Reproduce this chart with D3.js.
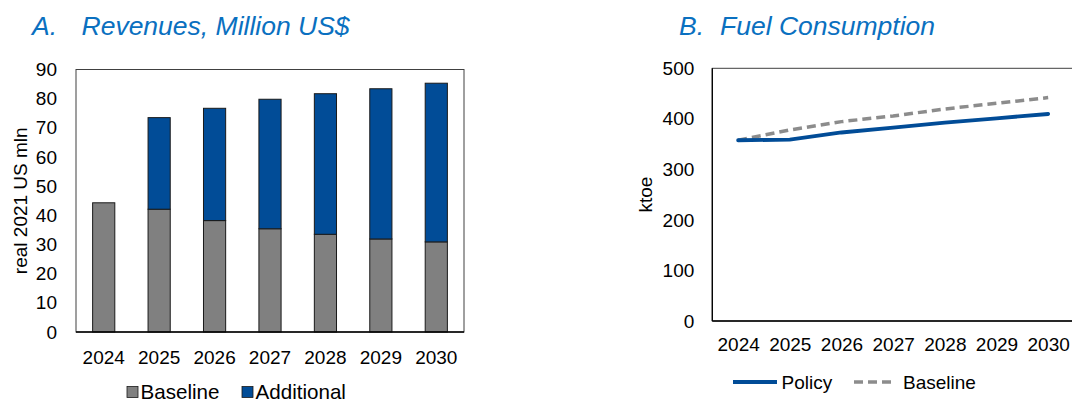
<!DOCTYPE html>
<html>
<head>
<meta charset="utf-8">
<script src="https://cdn.jsdelivr.net/npm/d3@7/dist/d3.min.js"></script>
<style>
  html, body { margin: 0; padding: 0; background: #fff; }
  svg { display: block; font-family: "Liberation Sans", Arial, sans-serif; }
</style>
</head>
<body>
<svg id="chart" width="1072" height="404"></svg>
<script>
// ---- Data ----
const years = ["2024", "2025", "2026", "2027", "2028", "2029", "2030"];
const revenueBaseline = [44.3, 42.1, 38.2, 35.4, 33.5, 31.9, 30.9];
const revenueAdditional = [0, 31.4, 38.5, 44.4, 48.2, 51.5, 54.4];
const revTicks = [0, 10, 20, 30, 40, 50, 60, 70, 80, 90];

const fuelPolicy = [357.6, 358.8, 373, 382.6, 392.5, 401, 409.6];
const fuelBaseline = [357.6, 378, 394.5, 405.7, 419.5, 430.8, 442];
const fuelTicks = [0, 100, 200, 300, 400, 500];

const titleA = "A.";
const titleAText = "Revenues, Million US$";
const titleB = "B.";
const titleBText = "Fuel Consumption";

const BLUE = "#014c97";
const GRAY = "#808080";
const TITLE_BLUE = "#0a70c0";

const svg = d3.select("#chart");

// ---------- Panel A ----------
const A = { left: 76, right: 464, top: 69.5, bottom: 332 };
const xA = d3.scaleBand().domain(years).range([A.left, A.right]).paddingInner(0.6).paddingOuter(0.3);
const yA = d3.scaleLinear().domain([0, 90]).range([A.bottom, A.top]);

svg.append("text").attr("x", 32).attr("y", 35).attr("fill", TITLE_BLUE)
  .attr("font-size", 26.5).attr("font-style", "italic").text(titleA);
svg.append("text").attr("x", 81.5).attr("y", 35).attr("fill", TITLE_BLUE)
  .attr("font-size", 26.5).attr("font-style", "italic").text(titleAText);

const gA = svg.append("g");
// baseline bars
gA.selectAll("rect.base").data(years).join("rect")
  .attr("x", d => xA(d)).attr("width", xA.bandwidth())
  .attr("y", (d, i) => yA(revenueBaseline[i]))
  .attr("height", (d, i) => yA(0) - yA(revenueBaseline[i]))
  .attr("fill", GRAY).attr("stroke", "#1a1a1a").attr("stroke-width", 1);
// additional bars
gA.selectAll("rect.add").data(years.filter((d, i) => revenueAdditional[i] > 0)).join("rect")
  .attr("x", d => xA(d)).attr("width", xA.bandwidth())
  .attr("y", d => { const i = years.indexOf(d); return yA(revenueBaseline[i] + revenueAdditional[i]); })
  .attr("height", d => { const i = years.indexOf(d); return yA(revenueBaseline[i]) - yA(revenueBaseline[i] + revenueAdditional[i]); })
  .attr("fill", BLUE).attr("stroke", "#1a1a1a").attr("stroke-width", 1);

// frame
gA.append("rect").attr("x", A.left).attr("y", A.top).attr("width", A.right - A.left).attr("height", A.bottom - A.top)
  .attr("fill", "none").attr("stroke", "#404040").attr("stroke-width", 1);
gA.append("line").attr("x1", A.left).attr("x2", A.right).attr("y1", A.bottom).attr("y2", A.bottom)
  .attr("stroke", "#000").attr("stroke-width", 1.3);

// y axis
const yAxisA = d3.axisLeft(yA).tickValues(revTicks).tickSize(0).tickPadding(19);
const gyA = svg.append("g").attr("transform", `translate(${A.left},0)`).call(yAxisA);
gyA.select(".domain").remove();
gyA.selectAll("text").attr("font-size", 19).attr("font-family", "Liberation Sans, Arial, sans-serif").attr("fill", "#000");

// x axis
const xAxisA = d3.axisBottom(xA).tickSize(0).tickPadding(19);
const gxA = svg.append("g").attr("transform", `translate(0,${A.bottom})`).call(xAxisA);
gxA.select(".domain").remove();
gxA.selectAll("text").attr("font-size", 19).attr("font-family", "Liberation Sans, Arial, sans-serif").attr("fill", "#000");

svg.append("text").attr("transform", `translate(27,${(A.top + A.bottom) / 2}) rotate(-90)`)
  .attr("text-anchor", "middle").attr("font-size", 19).attr("fill", "#000").text("real 2021 US mln");

// legend A
const legA = [{ name: "Baseline", color: GRAY, x: 127 }, { name: "Additional", color: BLUE, x: 242 }];
legA.forEach(l => {
  svg.append("rect").attr("x", l.x).attr("y", 386.5).attr("width", 11).attr("height", 11)
    .attr("fill", l.color).attr("stroke", "#1a1a1a").attr("stroke-width", 0.8);
  svg.append("text").attr("x", l.x + 13.5).attr("y", 398.5).attr("font-size", 20.6).attr("fill", "#000").text(l.name);
});

// ---------- Panel B ----------
const B = { left: 712.3, right: 1074, top: 68.3, bottom: 321 };
const xB = d3.scalePoint().domain(years).range([B.left, B.right]).padding(0.5);
const yB = d3.scaleLinear().domain([0, 500]).range([B.bottom, B.top]);

svg.append("text").attr("x", 679).attr("y", 35).attr("fill", TITLE_BLUE)
  .attr("font-size", 26.5).attr("font-style", "italic").text(titleB);
svg.append("text").attr("x", 720).attr("y", 35).attr("fill", TITLE_BLUE)
  .attr("font-size", 26.5).attr("font-style", "italic").text(titleBText);

svg.append("rect").attr("x", B.left).attr("y", B.top).attr("width", B.right - B.left).attr("height", B.bottom - B.top)
  .attr("fill", "none").attr("stroke", "#404040").attr("stroke-width", 1);
svg.append("line").attr("x1", B.left).attr("x2", B.right).attr("y1", B.bottom).attr("y2", B.bottom)
  .attr("stroke", "#000").attr("stroke-width", 1.3);
svg.append("line").attr("x1", B.left).attr("x2", B.left).attr("y1", B.top).attr("y2", B.bottom)
  .attr("stroke", "#000").attr("stroke-width", 1.3);

const line = d3.line().x((d, i) => xB(years[i])).y(d => yB(d));
svg.append("path").datum(fuelBaseline).attr("d", line).attr("fill", "none")
  .attr("stroke", "#8c8c8c").attr("stroke-width", 3.5).attr("stroke-dasharray", "9,5");
svg.append("path").datum(fuelPolicy).attr("d", line).attr("fill", "none")
  .attr("stroke", BLUE).attr("stroke-width", 3.8).attr("stroke-linecap", "round");

const yAxisB = d3.axisLeft(yB).tickValues(fuelTicks).tickSize(0).tickPadding(18);
const gyB = svg.append("g").attr("transform", `translate(${B.left},0)`).call(yAxisB);
gyB.select(".domain").remove();
gyB.selectAll("text").attr("font-size", 19).attr("font-family", "Liberation Sans, Arial, sans-serif").attr("fill", "#000");

const xAxisB = d3.axisBottom(xB).tickSize(0).tickPadding(17);
const gxB = svg.append("g").attr("transform", `translate(0,${B.bottom})`).call(xAxisB);
gxB.select(".domain").remove();
gxB.selectAll("text").attr("font-size", 19).attr("font-family", "Liberation Sans, Arial, sans-serif").attr("fill", "#000");

svg.append("text").attr("transform", `translate(652,${(B.top + B.bottom) / 2}) rotate(-90)`)
  .attr("text-anchor", "middle").attr("font-size", 19).attr("fill", "#000").text("ktoe");

// legend B
svg.append("line").attr("x1", 733).attr("x2", 777).attr("y1", 382).attr("y2", 382)
  .attr("stroke", BLUE).attr("stroke-width", 3.8);
svg.append("text").attr("x", 781.5).attr("y", 389).attr("font-size", 19).attr("fill", "#000").text("Policy");
svg.append("line").attr("x1", 854).attr("x2", 895).attr("y1", 382).attr("y2", 382)
  .attr("stroke", "#8c8c8c").attr("stroke-width", 3.5).attr("stroke-dasharray", "9,5");
svg.append("text").attr("x", 903).attr("y", 389).attr("font-size", 19).attr("fill", "#000").text("Baseline");
</script>
</body>
</html>
